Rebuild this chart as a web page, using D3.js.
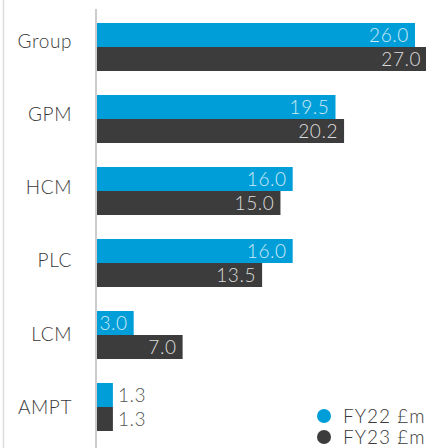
<!DOCTYPE html>
<html>
<head>
<meta charset="utf-8">
<script src="https://cdn.jsdelivr.net/npm/d3@7"></script>
<style>
  html, body { margin: 0; padding: 0; background: #fff; }
  svg { display: block; font-family: "Lato", "Noto Sans", sans-serif; }
</style>
</head>
<body>
<svg id="chart" width="426" height="448"></svg>
<script>
// Segment figures, £m
const categories = ["Group", "GPM", "HCM", "PLC", "LCM", "AMPT"];
const fy22 = [26.0, 19.5, 16.0, 16.0, 3.0, 1.3];
const fy23 = [27.0, 20.2, 15.0, 13.5, 7.0, 1.3];
const seriesNames = ["FY22 £m", "FY23 £m"];
const seriesColors = ["#009ed8", "#3c3c3c"];
const labelColors = ["#cfeaf6", "#dcdcdc"];

const svg = d3.select("#chart");
const W = 426, H = 448;

const x = d3.scaleLinear().domain([0, 26]).range([97, 415]);
const y = d3.scaleBand().domain(categories).range([11, 443])
  .paddingInner(1 / 3).paddingOuter(1 / 6);
const ySub = d3.scaleBand().domain([0, 1]).range([0, y.bandwidth()]);
const yLabel = d3.scalePoint().domain(categories).range([41, 407]);

// frame line on the left and the value axis
svg.append("line").attr("x1", 3.5).attr("x2", 3.5).attr("y1", 0).attr("y2", H)
  .attr("stroke", "#dddddd").attr("stroke-width", 1.5);
svg.append("line").attr("x1", 96).attr("x2", 96).attr("y1", 9).attr("y2", H)
  .attr("stroke", "#cccccc").attr("stroke-width", 2);

const series = [fy22, fy23];
series.forEach((vals, si) => {
  const g = svg.append("g");
  g.selectAll("rect").data(categories).join("rect")
    .attr("x", x(0))
    .attr("y", (d) => y(d) + ySub(si))
    .attr("width", (d, i) => x(vals[i]) - x(0))
    .attr("height", ySub.bandwidth())
    .attr("fill", seriesColors[si]);

  g.selectAll("text").data(categories).join("text")
    .attr("x", (d, i) => vals[i] < 2 ? x(vals[i]) + 5 : x(vals[i]) - 6)
    .attr("y", (d) => y(d) + ySub(si) + ySub.bandwidth() / 2)
    .attr("dy", "0.36em")
    .attr("text-anchor", (d, i) => vals[i] < 2 ? "start" : "end")
    .attr("font-size", 19)
    .attr("font-weight", 300)
    .attr("letter-spacing", 0.6)
    .attr("fill", (d, i) => vals[i] < 2 ? "#555555" : labelColors[si])
    .text((d, i) => vals[i].toFixed(1));
});

// category labels
svg.append("g").selectAll("text").data(categories).join("text")
  .attr("x", 72)
  .attr("y", (d) => yLabel(d))
  .attr("dy", "0.36em")
  .attr("text-anchor", "end")
  .attr("font-size", 19)
  .attr("font-weight", 300)
  .attr("letter-spacing", 0.6)
  .attr("fill", "#3a3a3a")
  .text((d) => d);

// legend
const legend = svg.append("g");
seriesNames.forEach((name, i) => {
  const ly = 416 + i * 21;
  legend.append("circle").attr("cx", 324).attr("cy", ly).attr("r", 7)
    .attr("fill", seriesColors[i]);
  legend.append("text").attr("x", 343).attr("y", ly).attr("dy", "0.36em")
    .attr("font-size", 19).attr("font-weight", 300).attr("letter-spacing", 1)
    .attr("fill", "#3a3a3a").text(name);
});
</script>
</body>
</html>
